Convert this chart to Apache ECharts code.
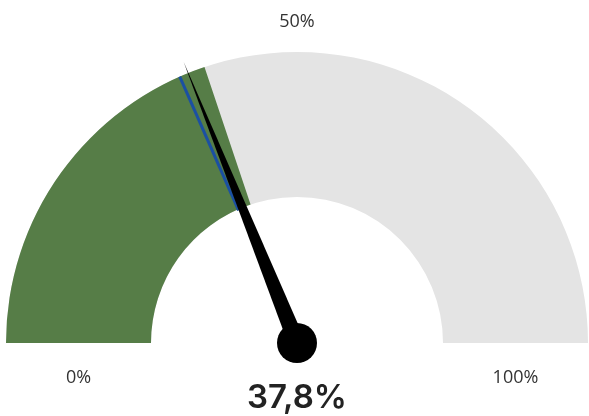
<!DOCTYPE html>
<html><head><meta charset="utf-8">
<script src="https://cdn.jsdelivr.net/npm/echarts@6/dist/echarts.min.js"></script>
<style>html,body{margin:0;padding:0;background:#fff}#c{width:589px;height:416px}</style>
</head><body><div id="c"></div>
<script>
const gaugeValue = 37.8;      // needle value (%)
const fillValue = 39.7;       // green band end (%)
const targetValue = 36.8;     // blue marker (%)
const tickLabels = ['0%', '50%', '100%'];
const tickValues = [0, 50, 100];
const valueLabel = '37,8%';

const cx = 297, cy = 343, R = 291, W = 145;
const font = '"Open Sans", "Noto Sans", sans-serif';

const chart = echarts.init(document.getElementById('c'));
const base = {
  type: 'gauge', center: [cx, cy], radius: R, startAngle: 180, endAngle: 0,
  min: 0, max: 100, splitNumber: 2,
  axisTick: {show: false}, splitLine: {show: false}, axisLabel: {show: false},
  title: {show: false}, detail: {show: false}, animation: false
};
function labelPos(v) {
  const a = Math.PI * (1 - v / 100);
  if (v === 0 || v === 100) return [cx + Math.cos(a) * (R - W / 2), cy + 35];
  return [cx + Math.cos(a) * R, cy - Math.sin(a) * R - 30];
}
chart.setOption({
  animation: false,
  series: [
    Object.assign({}, base, {
      z: 1,
      axisLine: {lineStyle: {width: W, color: [[1, '#e4e4e4']]}},
      progress: {show: true, width: W, roundCap: false, itemStyle: {color: '#567d47'}},
      pointer: {show: false}, anchor: {show: false},
      data: [{value: fillValue}]
    }),
    Object.assign({}, base, {
      z: 5,
      axisLine: {show: false},
      pointer: {show: true, icon: 'rect', length: R - W, width: 3,
        offsetCenter: [0, -W], itemStyle: {color: '#1b50a3'}},
      anchor: {show: false},
      data: [{value: targetValue}]
    }),
    Object.assign({}, base, {
      z: 10,
      axisLine: {show: false},
      pointer: {show: true, icon: 'triangle', length: 303, width: 17, itemStyle: {color: '#000'}},
      anchor: {show: true, size: 40, showAbove: true, itemStyle: {color: '#000'}},
      detail: {show: true, offsetCenter: [0, 55], formatter: () => valueLabel,
        fontSize: 33, fontWeight: 600, fontFamily: 'Inter, "Open Sans", sans-serif', color: '#222'},
      data: [{value: gaugeValue}]
    })
  ],
  graphic: tickLabels.map((t, i) => {
    const p = labelPos(tickValues[i]);
    return {type: 'text', x: p[0], y: p[1], style: {text: t, fontSize: 18, fontFamily: font,
      fill: '#333', align: 'center', verticalAlign: 'middle'}};
  })
});
</script></body></html>
